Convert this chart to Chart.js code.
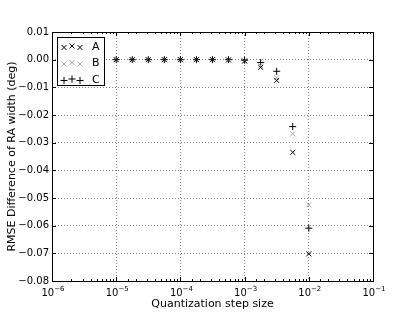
<!DOCTYPE html>
<html>
<head>
<meta charset="utf-8">
<script src="https://cdn.jsdelivr.net/npm/chart.js@4.4.0/dist/chart.umd.min.js"></script>
<style>
	body { margin:0; background:#fff; }
	canvas { display:block; }
</style>
</head>
<body>
<canvas id="rmse_chart" width="415" height="312"></canvas>
<script>
// quantization steps (quarter decades) and RMSE difference per series
const steps = [1e-5, 1.78e-5, 3.16e-5, 5.62e-5, 1e-4, 1.78e-4, 3.16e-4, 5.62e-4, 1e-3, 1.78e-3, 3.16e-3, 5.62e-3, 1e-2];
const rmse_a = [0, 0, 0, 0, 0, 0, 0, -0.0001, -0.0005, -0.0028, -0.0075, -0.0335, -0.0702];
const rmse_b = [0, 0, 0, 0, 0, 0, 0, -0.0001, -0.0004, -0.0022, -0.0065, -0.0268, -0.0525];
const rmse_c = [0, 0, 0, 0, 0, 0, 0, 0, -0.0002, -0.0010, -0.0042, -0.0242, -0.0609];
const series_labels = ['A', 'B', 'C'];

const font_family = "'DejaVu Sans', sans-serif";
const font_tick = { family: font_family, size: 10 };
const font_title = { family: font_family, size: 11 };

function is_decade(v){
	let l = Math.log10(v);
	return Math.abs(l - Math.round(l)) < 1e-6;
}
function points(ys){
	return steps.map((x, i) => ({ x: x, y: ys[i] }));
}

// box round the plot, inward ticks (matplotlib style), 10^n labels
let frame = {
	id: 'frame',
	afterDatasetsDraw: function(chart){
		let ctx = chart.ctx, a = chart.chartArea;
		let xs = chart.scales.x, ys = chart.scales.y;
		ctx.save();
		ctx.strokeStyle = '#000';
		ctx.lineWidth = 1;
		ctx.beginPath();
		xs.ticks.forEach((t) => {
			let px = Math.round(xs.getPixelForValue(t.value)) + 0.5;
			let len = is_decade(t.value) ? 4 : 2;
			ctx.moveTo(px, a.bottom); ctx.lineTo(px, a.bottom - len);
			ctx.moveTo(px, a.top); ctx.lineTo(px, a.top + len);
		});
		ys.ticks.forEach((t) => {
			let py = Math.round(ys.getPixelForValue(t.value)) + 0.5;
			ctx.moveTo(a.left, py); ctx.lineTo(a.left + 4, py);
			ctx.moveTo(a.right, py); ctx.lineTo(a.right - 4, py);
		});
		ctx.stroke();
		ctx.strokeRect(Math.round(a.left) + 0.5, Math.round(a.top) + 0.5, Math.round(a.right - a.left), Math.round(a.bottom - a.top));

		ctx.fillStyle = '#000';
		ctx.textBaseline = 'alphabetic';
		ctx.textAlign = 'left';
		xs.ticks.forEach((t) => {
			if (!is_decade(t.value)) return;
			let px = xs.getPixelForValue(t.value);
			let base = '10', exp = '\u2212' + Math.abs(Math.round(Math.log10(t.value)));
			ctx.font = '10px ' + font_family;
			let w1 = ctx.measureText(base).width;
			ctx.font = '7px ' + font_family;
			let w2 = ctx.measureText(exp).width;
			let x0 = px - (w1 + w2) / 2 + 1;
			ctx.font = '10px ' + font_family;
			ctx.fillText(base, x0, a.bottom + 15);
			ctx.font = '7px ' + font_family;
			ctx.fillText(exp, x0 + w1, a.bottom + 10);
		});
		ctx.restore();
	}
};

// legend with three markers per entry
function draw_marker(ctx, style, x, y, r){
	ctx.beginPath();
	if (style == 'cross'){
		ctx.moveTo(x - r, y); ctx.lineTo(x + r, y);
		ctx.moveTo(x, y - r); ctx.lineTo(x, y + r);
	} else {
		let d = r * 0.7071;
		ctx.moveTo(x - d, y - d); ctx.lineTo(x + d, y + d);
		ctx.moveTo(x - d, y + d); ctx.lineTo(x + d, y - d);
	}
	ctx.stroke();
}
let box_legend = {
	id: 'box_legend',
	afterDraw: function(chart){
		let ctx = chart.ctx, a = chart.chartArea;
		let bx = a.left + 5, by = a.top + 5, bw = 47, bh = 48;
		ctx.save();
		ctx.fillStyle = '#fff';
		ctx.fillRect(bx, by, bw, bh);
		ctx.strokeStyle = '#000';
		ctx.lineWidth = 1;
		ctx.strokeRect(Math.round(bx) + 0.5, Math.round(by) + 0.5, bw, bh);
		ctx.font = '11px ' + font_family;
		ctx.textBaseline = 'middle';
		chart.data.datasets.forEach((ds, i) => {
			let cy = by + 10 + i * 16.5;
			ctx.strokeStyle = ds.borderColor;
			ctx.lineWidth = 1;
			[[7, 0.5], [15, -1], [23, 0.5]].forEach((o) => {
				draw_marker(ctx, ds.pointStyle, bx + o[0], cy + o[1], ds.pointRadius);
			});
			ctx.fillStyle = '#000';
			ctx.fillText(ds.label, bx + 35, cy);
		});
		ctx.restore();
	}
};

window.onload = () => {
	let colors = ['#000', '#aaa', '#000'];
	let styles = ['crossRot', 'crossRot', 'cross'];
	let radii = [3.5, 3.5, 3.5];
	let datasets = [rmse_a, rmse_b, rmse_c].map((ys, i) => ({
		label: series_labels[i],
		data: points(ys),
		showLine: false,
		pointStyle: styles[i],
		pointRadius: radii[i],
		pointHoverRadius: radii[i],
		borderColor: colors[i],
		backgroundColor: colors[i],
		pointBorderWidth: 1
	}));

	new Chart('rmse_chart', {
		type: 'scatter',
		data: { datasets: datasets },
		plugins: [frame, box_legend],
		options: {
			responsive: false,
			animation: false,
			layout: { padding: { left: 0, top: 32, right: 42, bottom: 0 } },
			plugins: {
				legend: { display: false },
				tooltip: { enabled: false }
			},
			scales: {
				x: {
					type: 'logarithmic',
					min: 1e-6,
					max: 0.1,
					afterFit: (s) => { s.height = 31; },
					grid: {
						drawTicks: false,
						color: (c) => (c.tick && is_decade(c.tick.value)) ? '#666' : 'rgba(0,0,0,0)',
						lineWidth: 0.8
					},
					border: { display: false, dash: [1, 2] },
					ticks: {
						autoSkip: false,
						maxRotation: 0,
						padding: 4,
						color: '#000',
						font: font_tick,
						callback: () => ''
					},
					title: {
						display: true,
						text: 'Quantization step size',
						color: '#000',
						font: font_title,
						padding: { top: 0, bottom: 1 }
					}
				},
				y: {
					min: -0.08,
					max: 0.01,
					afterFit: (s) => { s.width = 52; },
					grid: {
						drawTicks: false,
						color: '#666',
						lineWidth: 0.8
					},
					border: { display: false, dash: [1, 2] },
					ticks: {
						stepSize: 0.01,
						padding: 3,
						color: '#000',
						font: font_tick,
						callback: (v) => {
							if (Math.abs(v) < 1e-9) return '0.00';
							return v.toFixed(2).replace('-', '\u2212');
						}
					},
					title: {
						display: true,
						text: 'RMSE Difference of RA width (deg)',
						color: '#000',
						font: font_title,
						padding: { top: 6, bottom: 0 }
					}
				}
			}
		}
	});
};
</script>
</body>
</html>
